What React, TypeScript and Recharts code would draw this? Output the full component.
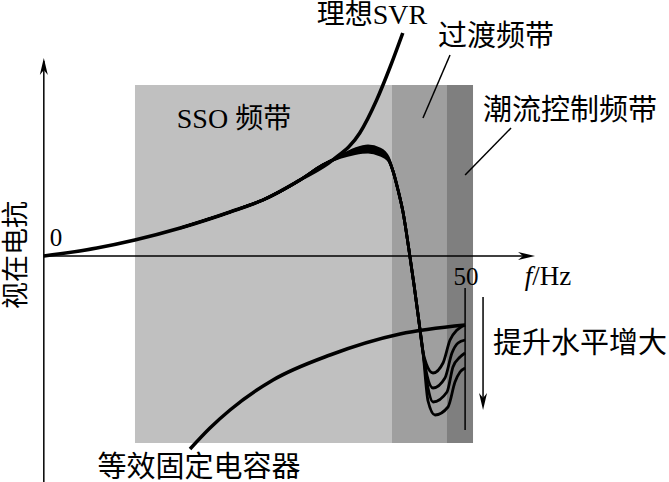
import React from 'react';
import {
  ComposedChart,
  XAxis,
  YAxis,
  Line,
  ReferenceArea,
  ReferenceLine,
  ReferenceDot,
} from 'recharts';

type Pt = { f: number; y: number };

// frequency (Hz) on x, apparent reactance (arbitrary units) on y
const F_DOMAIN: [number, number] = [-5.2, 74.2];
const X_DOMAIN: [number, number] = [-22.6, 25.6];

// band edges in Hz: SSO | transition | power-flow control
const bandEdges = [10.82, 41.32, 47.85, 50.94];
const bandTop = 17.1;
const bandBottom = -18.7;

const idealSvr: Pt[] = [
  { f: 0, y: 0 }, { f: 6.3, y: 0.8 }, { f: 10.8, y: 1.6 }, { f: 16.2, y: 2.8 },
  { f: 22.1, y: 4.4 }, { f: 26.0, y: 5.6 }, { f: 30.4, y: 7.6 }, { f: 34.3, y: 9.6 },
  { f: 37.5, y: 12.3 }, { f: 39.5, y: 15.6 }, { f: 41.1, y: 18.9 }, { f: 42.6, y: 22.3 },
];

// part of the boosted SVR curves that lies on the ideal one
const svrRise: Pt[] = [
  { f: 16.2, y: 2.8 }, { f: 22.1, y: 4.4 }, { f: 26.0, y: 5.6 }, { f: 30.4, y: 7.6 }, { f: 33.1, y: 9.1 },
];

const peakF = [35.15, 36.93, 38.48, 39.9, 40.85];
const peakY = [
  [10.0, 10.7, 11.0, 10.7, 9.9],
  [9.95, 10.55, 10.8, 10.5, 9.8],
  [9.9, 10.4, 10.6, 10.3, 9.7],
  [9.85, 10.25, 10.4, 10.1, 9.6],
];

const fallF = [41.44, 42.04, 42.63, 43.34, 43.94, 44.53, 45.0];
const fallY = [8.5, 6.6, 4.4, 0.6, -2.9, -6.6, -9.6];

const dips: Pt[][] = [
  [{ f: 45.4, y: -10.8 }, { f: 46.19, y: -11.7 }, { f: 47.38, y: -10.7 }, { f: 48.21, y: -8.4 }, { f: 49.04, y: -7.4 }, { f: 50, y: -6.9 }],
  [{ f: 45.5, y: -12.0 }, { f: 46.19, y: -13.2 }, { f: 47.61, y: -12.2 }, { f: 48.44, y: -9.7 }, { f: 49.16, y: -8.7 }, { f: 50, y: -8.4 }],
  [{ f: 45.6, y: -13.2 }, { f: 46.19, y: -14.6 }, { f: 47.85, y: -13.6 }, { f: 48.56, y: -11.1 }, { f: 49.4, y: -10.1 }, { f: 50, y: -9.7 }],
  [{ f: 45.6, y: -14.5 }, { f: 46.43, y: -15.9 }, { f: 47.97, y: -15.1 }, { f: 48.8, y: -12.6 }, { f: 49.4, y: -11.6 }, { f: 50, y: -11.2 }],
];

const fixedCap: Pt[] = [
  { f: 17.35, y: -19.3 }, { f: 19.72, y: -17.2 }, { f: 22.1, y: -15.4 }, { f: 27.2, y: -12.4 },
  { f: 33.97, y: -9.9 }, { f: 42.27, y: -7.8 }, { f: 50, y: -6.9 },
];

const boostCurves: Pt[][] = peakY.map((ys, k) => [
  ...svrRise,
  ...peakF.map((f, i) => ({ f, y: ys[i] })),
  ...fallF.map((f, i) => ({ f, y: fallY[i] })),
  ...dips[k],
]);

const BAND_FILLS = ['#c0c0c0', '#9f9f9f', '#7f7f7f'];
const FONT = "'Liberation Serif', 'Noto Sans CJK SC', serif";

function Arrow({ cx, cy, dir }: { cx: number; cy: number; dir: 'up' | 'right' | 'down' }) {
  const L = 17, W = 4, N = 12;
  let pts = '';
  if (dir === 'up') pts = `${cx},${cy} ${cx - W},${cy + L} ${cx},${cy + N} ${cx + W},${cy + L}`;
  if (dir === 'down') pts = `${cx},${cy} ${cx - W},${cy - L} ${cx},${cy - N} ${cx + W},${cy - L}`;
  if (dir === 'right') pts = `${cx},${cy} ${cx - L},${cy - W} ${cx - N},${cy} ${cx - L},${cy + W}`;
  return <polygon points={pts} fill="#000" />;
}

function note(text: React.ReactNode, size: number, rotate = false) {
  return (p: any) => (
    <text
      x={p.cx}
      y={p.cy}
      textAnchor="middle"
      dominantBaseline="central"
      fontSize={size}
      fontFamily={FONT}
      fill="#000"
      transform={rotate ? `rotate(-90, ${p.cx}, ${p.cy})` : undefined}
    >
      {text}
    </text>
  );
}

export default function App() {
  return (
    <div style={{ position: 'absolute', left: 0, top: 0, width: 669, height: 482, background: '#fff' }}>
      <ComposedChart width={669} height={482} margin={{ top: 0, right: 0, bottom: 0, left: 0 }}>
        <XAxis type="number" dataKey="f" domain={F_DOMAIN} allowDataOverflow hide />
        <YAxis type="number" dataKey="y" domain={X_DOMAIN} allowDataOverflow hide />

        {BAND_FILLS.map((fill, i) => (
          <ReferenceArea
            key={i}
            x1={bandEdges[i]}
            x2={bandEdges[i + 1]}
            y1={bandBottom}
            y2={bandTop}
            fill={fill}
            fillOpacity={1}
            stroke="none"
          />
        ))}

        {/* axes */}
        <ReferenceLine segment={[{ x: 0, y: -22.6 }, { x: 0, y: 19.5 }]} stroke="#000" strokeWidth={1.5} />
        <ReferenceLine segment={[{ x: 0, y: 0 }, { x: 57.5, y: 0 }]} stroke="#000" strokeWidth={1.5} />
        <ReferenceDot x={0} y={19.8} r={0} shape={(p: any) => <Arrow cx={p.cx} cy={p.cy} dir="up" />} />
        <ReferenceDot x={58.3} y={0} r={0} shape={(p: any) => <Arrow cx={p.cx} cy={p.cy} dir="right" />} />

        {/* 50 Hz marker and boost arrow */}
        <ReferenceLine segment={[{ x: 50, y: -3.2 }, { x: 50, y: -17.4 }]} stroke="#000" strokeWidth={1.5} />
        <ReferenceLine segment={[{ x: 52.13, y: -4.1 }, { x: 52.13, y: -14.5 }]} stroke="#000" strokeWidth={1.5} />
        <ReferenceDot x={52.13} y={-15.4} r={0} shape={(p: any) => <Arrow cx={p.cx} cy={p.cy} dir="down" />} />

        {/* leader lines */}
        <ReferenceLine segment={[{ x: 48.21, y: 20.1 }, { x: 45.0, y: 13.8 }]} stroke="#000" strokeWidth={1.5} />
        <ReferenceLine segment={[{ x: 55.45, y: 12.8 }, { x: 50.0, y: 8.1 }]} stroke="#000" strokeWidth={1.5} />

        <Line data={fixedCap} dataKey="y" type="monotone" stroke="#000" strokeWidth={3.5} dot={false} activeDot={false} isAnimationActive={false} />
        <Line data={idealSvr} dataKey="y" type="monotone" stroke="#000" strokeWidth={3.5} dot={false} activeDot={false} isAnimationActive={false} />
        {boostCurves.map((d, k) => (
          <Line key={k} data={d} dataKey="y" type="monotone" stroke="#000" strokeWidth={2.8} dot={false} activeDot={false} isAnimationActive={false} />
        ))}

        {/* annotations */}
        <ReferenceDot x={38.95} y={24.2} r={0} shape={note('理想SVR', 28)} />
        <ReferenceDot x={53.67} y={22.0} r={0} shape={note('过渡频带', 29)} />
        <ReferenceDot x={62.45} y={14.6} r={0} shape={note('潮流控制频带', 29)} />
        <ReferenceDot x={22.57} y={13.8} r={0} shape={note('SSO 频带', 28)} />
        <ReferenceDot x={18.42} y={-21.1} r={0} shape={note('等效固定电容器', 29)} />
        <ReferenceDot x={63.64} y={-8.7} r={0} shape={note('提升水平增大', 29)} />
        <ReferenceDot x={-3.3} y={0.1} r={0} shape={note('视在电抗', 27, true)} />
        <ReferenceDot x={1.45} y={1.9} r={0} shape={note('0', 25)} />
        <ReferenceDot x={50.1} y={-2.0} r={0} shape={note('50', 25)} />
        <ReferenceDot
          x={59.84}
          y={-2.0}
          r={0}
          shape={note(<><tspan fontStyle="italic">f</tspan>/Hz</>, 27)}
        />
      </ComposedChart>
    </div>
  );
}
